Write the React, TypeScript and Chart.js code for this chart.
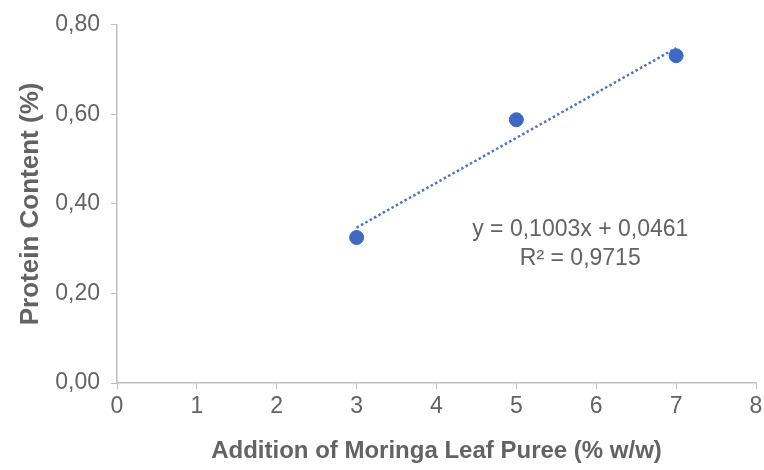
import React, { useEffect, useRef } from "react";
import { Chart, registerables } from "chart.js";

Chart.register(...registerables);

const additionX: number[] = [3, 5, 7];
const proteinY: number[] = [0.325, 0.588, 0.731];
const trendX: number[] = [3, 7];
const trendY: number[] = [0.347, 0.748];
const equationLines: string[] = ["y = 0,1003x + 0,0461", "R² = 0,9715"];
const equationAnchorX = 5.8;
const equationAnchorY: number[] = [0.343, 0.278];
const xTitle = "Addition of Moringa Leaf Puree (% w/w)";
const yTitle = "Protein Content (%)";

const FONT = "'Liberation Sans', Arial, sans-serif";
const TEXT = "#636363";
const AXIS = "#bfbfbf";
const BLUE = "#3F68C2";
const LINE = "#4A74C6";

export default function App() {
  const ref = useRef<HTMLCanvasElement | null>(null);
  useEffect(() => {
    if (!ref.current) return;
    const annotPlugin = {
      id: "annot",
      afterDatasetsDraw(chart: any) {
        const ctx = chart.ctx;
        const xs = chart.scales.x;
        const ys = chart.scales.y;
        ctx.save();
        ctx.fillStyle = TEXT;
        ctx.font = `23px ${FONT}`;
        ctx.textAlign = "center";
        ctx.textBaseline = "middle";
        equationLines.forEach((t, i) => {
          ctx.fillText(t, xs.getPixelForValue(equationAnchorX), ys.getPixelForValue(equationAnchorY[i]));
        });
        ctx.restore();
      },
    };
    const chart = new Chart(ref.current, {
      type: "scatter",
      data: {
        datasets: [
          {
            label: "Protein",
            data: additionX.map((x, i) => ({ x, y: proteinY[i] })),
            backgroundColor: BLUE,
            borderColor: BLUE,
            pointRadius: 7,
            pointHoverRadius: 7,
            order: 1,
          },
          {
            label: "Trend",
            type: "line",
            data: trendX.map((x, i) => ({ x, y: trendY[i] })),
            borderColor: LINE,
            borderWidth: 2.5,
            borderDash: [2.5, 2.5],
            pointRadius: 0,
            fill: false,
            showLine: true,
            order: 2,
          } as any,
        ],
      },
      options: {
        animation: false,
        responsive: false,
        devicePixelRatio: 1,
        layout: { padding: { top: 22, right: 0, left: 0, bottom: 0 } },
        plugins: { legend: { display: false }, tooltip: { enabled: false } },
        scales: {
          x: {
            type: "linear",
            min: 0,
            max: 8,
            afterFit: (s: any) => {
              s.height = 87;
              s.paddingRight = 7;
              s.paddingLeft = 0;
            },
            ticks: { stepSize: 1, color: TEXT, font: { family: FONT, size: 23 }, padding: 4 },
            grid: { drawOnChartArea: false, drawTicks: true, tickLength: 6, color: AXIS },
            border: { color: AXIS, width: 1.5 },
            title: {
              display: true,
              text: xTitle,
              color: TEXT,
              font: { family: FONT, size: 24, weight: "bold" },
              padding: { top: 0, bottom: 4 },
            },
          },
          y: {
            type: "linear",
            min: 0,
            max: 0.8,
            afterFit: (s: any) => {
              s.width = 117;
            },
            ticks: {
              stepSize: 0.2,
              color: TEXT,
              font: { family: FONT, size: 23 },
              padding: 11,
              callback: (v: any) => Number(v).toFixed(2).replace(".", ","),
            },
            grid: { drawOnChartArea: false, drawTicks: true, tickLength: 6, color: AXIS },
            border: { color: AXIS, width: 1.5 },
            title: {
              display: true,
              text: yTitle,
              color: TEXT,
              font: { family: FONT, size: 26, weight: "bold" },
              padding: { top: 15, bottom: 0 },
            },
          },
        },
      },
      plugins: [annotPlugin],
    });
    return () => chart.destroy();
  }, []);
  return (
    <div style={{ position: "fixed", left: 0, top: 0, width: 764, height: 470, background: "#fff" }}>
      <canvas ref={ref} width={764} height={470} style={{ width: 764, height: 470 }} />
    </div>
  );
}
